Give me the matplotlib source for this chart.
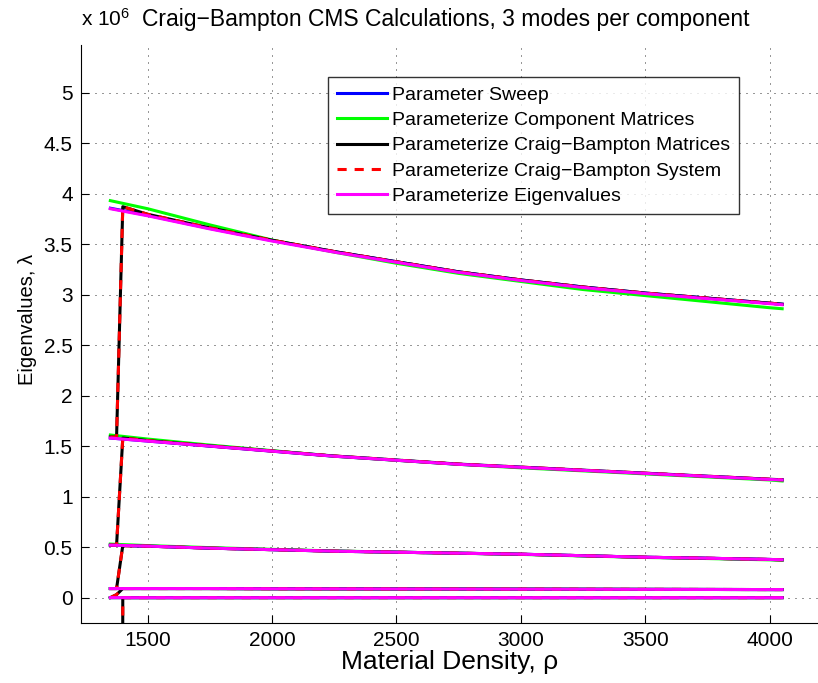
import matplotlib.pyplot as plt

plt.rcParams['font.family'] = ['Liberation Sans', 'DejaVu Sans']
plt.rcParams['mathtext.fontset'] = 'custom'
plt.rcParams['mathtext.rm'] = 'Liberation Sans'
plt.rcParams['mathtext.it'] = 'Liberation Sans:italic'

# material density samples
rho = [1350, 1500, 1750, 2000, 2250, 2500, 2750, 3000, 3250, 3500, 3750, 4000, 4050]
# CB runs carry two extra early samples
rho_cb = [1350, 1375, 1400, 1500, 1750, 2000, 2250, 2500, 2750, 3000, 3250, 3500, 3750, 4000, 4050]

# eigenvalues in units of 1e6, one list per mode
sweep = [
    [0, 0, 0, 0, 0, 0, 0, 0, 0, 0, 0, 0, 0],
    [0.09, 0.09, 0.09, 0.088, 0.087, 0.086, 0.085, 0.084, 0.083, 0.082, 0.081, 0.08, 0.08],
    [0.52, 0.51, 0.49, 0.475, 0.46, 0.45, 0.44, 0.43, 0.415, 0.40, 0.39, 0.378, 0.375],
    [1.58, 1.55, 1.50, 1.45, 1.40, 1.36, 1.32, 1.29, 1.26, 1.23, 1.20, 1.17, 1.165],
    [3.855, 3.785, 3.655, 3.535, 3.425, 3.325, 3.225, 3.145, 3.075, 3.015, 2.965, 2.915, 2.905],
]
component = [
    [0, 0, 0, 0, 0, 0, 0, 0, 0, 0, 0, 0, 0],
    [0.09, 0.09, 0.09, 0.088, 0.087, 0.086, 0.085, 0.084, 0.083, 0.082, 0.081, 0.08, 0.08],
    [0.53, 0.515, 0.495, 0.478, 0.462, 0.45, 0.44, 0.428, 0.413, 0.398, 0.387, 0.374, 0.37],
    [1.61, 1.57, 1.51, 1.455, 1.40, 1.36, 1.32, 1.285, 1.255, 1.225, 1.195, 1.165, 1.155],
    [3.93, 3.85, 3.69, 3.54, 3.42, 3.31, 3.21, 3.13, 3.05, 2.99, 2.93, 2.87, 2.86],
]
cb_matrices = [
    [-40, -40, 0, 0, 0, 0, 0, 0, 0, 0, 0, 0, 0, 0, 0],
    [0, 0.03, 0.09, 0.09, 0.09, 0.088, 0.087, 0.086, 0.085, 0.084, 0.083, 0.082, 0.081, 0.08, 0.08],
    [0.09, 0.09, 0.515, 0.51, 0.49, 0.475, 0.46, 0.45, 0.44, 0.43, 0.415, 0.40, 0.39, 0.378, 0.375],
    [0.52, 0.52, 1.58, 1.555, 1.502, 1.452, 1.402, 1.362, 1.322, 1.292, 1.262, 1.232, 1.202, 1.172, 1.167],
    [1.59, 1.59, 3.87, 3.795, 3.66, 3.538, 3.426, 3.325, 3.225, 3.145, 3.075, 3.015, 2.965, 2.915, 2.905],
]
cb_system = [
    [-40, -40, 0, 0, 0, 0, 0, 0, 0, 0, 0, 0, 0, 0, 0],
    [0, 0.03, 0.09, 0.09, 0.09, 0.088, 0.087, 0.086, 0.085, 0.084, 0.083, 0.082, 0.081, 0.08, 0.08],
    [0.09, 0.09, 0.515, 0.51, 0.49, 0.475, 0.46, 0.45, 0.44, 0.43, 0.415, 0.40, 0.39, 0.378, 0.375],
    [0.52, 0.52, 1.58, 1.555, 1.502, 1.452, 1.402, 1.362, 1.322, 1.292, 1.262, 1.232, 1.202, 1.172, 1.167],
    [1.59, 1.59, 3.87, 3.795, 3.66, 3.538, 3.426, 3.325, 3.225, 3.145, 3.075, 3.015, 2.965, 2.915, 2.905],
]
eigen = [
    [0, 0, 0, 0, 0, 0, 0, 0, 0, 0, 0, 0, 0],
    [0.09, 0.09, 0.09, 0.088, 0.087, 0.086, 0.085, 0.084, 0.083, 0.082, 0.081, 0.08, 0.08],
    [0.52, 0.51, 0.49, 0.475, 0.46, 0.45, 0.44, 0.43, 0.415, 0.40, 0.39, 0.378, 0.375],
    [1.58, 1.55, 1.50, 1.45, 1.40, 1.36, 1.32, 1.29, 1.26, 1.23, 1.20, 1.17, 1.165],
    [3.85, 3.78, 3.65, 3.53, 3.42, 3.32, 3.22, 3.14, 3.07, 3.01, 2.96, 2.91, 2.90],
]

labels = ['Parameter Sweep', 'Parameterize Component Matrices',
          'Parameterize Craig\u2212Bampton Matrices', 'Parameterize Craig\u2212Bampton System',
          'Parameterize Eigenvalues']

fig = plt.figure(figsize=(8.18, 6.83), dpi=100)
ax = fig.add_axes([0.099, 0.088, 0.901, 0.846])

lw = 2.2
# one series at a time, all modes, so later series sit on top
series = [
    (rho, sweep, dict(color='#0000ff')),
    (rho, component, dict(color='#00ff00')),
    (rho_cb, cb_matrices, dict(color='k')),
    (rho_cb, cb_system, dict(color='#ff0000', dashes=(3, 2.6))),
    (rho, eigen, dict(color='#ff00ff')),
]
handles = []
for x, modes, style in series:
    for i, y in enumerate(modes):
        # no snapping, flat and sloped runs must land on the same pixels
        h, = ax.plot(x, y, lw=lw, snap=False, **style)
        if i == 0:
            handles.append(h)

ax.set_xlim(1232, 4194)
ax.set_ylim(-0.25, 5.47)
ax.set_xticks([1500, 2000, 2500, 3000, 3500, 4000])
ax.set_yticks([0, 0.5, 1, 1.5, 2, 2.5, 3, 3.5, 4, 4.5, 5])
ax.set_yticklabels(['0', '0.5', '1', '1.5', '2', '2.5', '3', '3.5', '4', '4.5', '5'])
ax.tick_params(direction='in', length=6, labelsize=15, pad=6)
ax.spines['top'].set_visible(False)
ax.spines['right'].set_visible(False)
ax.grid(True, color='#333333', lw=0.72, dashes=(1, 6))

ax.set_xlabel('Material Density, \u03c1', fontsize=19, labelpad=0)
ax.set_ylabel('Eigenvalues, \u03bb', fontsize=14.5)
ax.yaxis.set_label_coords(-0.06, 0.525)
fig.text(0.099, 0.972, r'x 10$^{6}$', fontsize=15, ha='left', va='center')
fig.text(0.174, 0.972, 'Craig\u2212Bampton CMS Calculations, 3 modes per component',
         fontsize=16.5, ha='left', va='center')

leg = ax.legend(handles, labels, loc='upper left', bbox_to_anchor=(0.401, 0.887),
                bbox_transform=fig.transFigure, fontsize=14, frameon=True, fancybox=False,
                handlelength=2.6, handletextpad=0.25, labelspacing=0.40,
                borderpad=0.45, borderaxespad=0)
leg.get_frame().set_edgecolor('k')
leg.get_frame().set_linewidth(1.0)

plt.savefig('out.png', dpi=100)
